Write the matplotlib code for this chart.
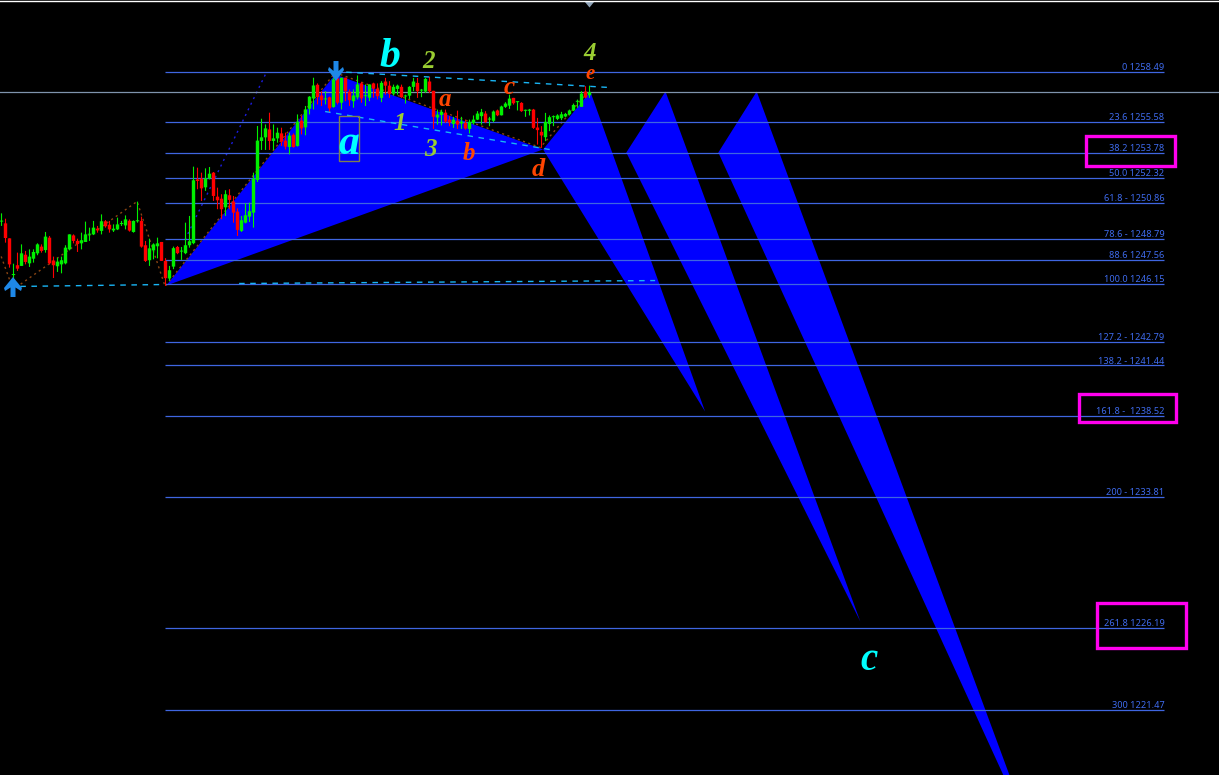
"""
XAUUSD style wave chart: candles, fib levels and projected wave wedges.
Generates out.png.
"""
import matplotlib
matplotlib.use('Agg')
import matplotlib.pyplot as plt
from matplotlib.patches import Polygon, Rectangle

# Candles, one per bar (prices)
opens = [1249.78, 1249.68, 1248.81, 1246.68, 1247.25, 1247.21, 1247.86, 1247.36, 1247.63, 1247.94,
         1248.33, 1248.13, 1248.85, 1247.52, 1247.19, 1247.30, 1247.36, 1248.17, 1248.98, 1248.66,
         1248.52, 1248.60, 1249.02, 1249.04, 1249.37, 1249.24, 1249.80, 1249.60, 1249.27, 1249.33,
         1249.64, 1249.56, 1249.83, 1249.18, 1249.80, 1249.82, 1248.41, 1247.54, 1248.11, 1248.35,
         1248.60, 1247.50, 1246.48, 1247.17, 1248.31, 1248.04, 1247.95, 1248.41, 1248.53, 1252.23,
         1252.27, 1251.77, 1252.29, 1252.62, 1251.23, 1251.11, 1250.61, 1251.31, 1250.94, 1250.36,
         1249.24, 1249.72, 1250.07, 1250.30, 1252.20, 1254.46, 1254.67, 1255.13, 1254.46, 1254.61,
         1254.90, 1254.48, 1254.11, 1254.82, 1254.17, 1255.64, 1255.25, 1256.33, 1256.93, 1257.72,
         1257.10, 1256.87, 1256.99, 1256.43, 1258.09, 1256.68, 1258.13, 1257.32, 1256.77, 1256.99,
         1257.80, 1257.06, 1256.97, 1257.80, 1257.49, 1256.96, 1257.91, 1257.67, 1257.21, 1257.48,
         1257.60, 1257.04, 1257.09, 1257.60, 1257.83, 1257.38, 1257.33, 1257.91, 1257.37, 1255.82,
         1255.97, 1256.09, 1255.70, 1255.45, 1255.63, 1255.47, 1255.51, 1255.16, 1255.51, 1255.70,
         1255.90, 1256.05, 1255.70, 1255.63, 1256.23, 1255.95, 1256.44, 1256.51, 1256.96, 1256.71,
         1256.67, 1256.21, 1256.21, 1256.28, 1255.24, 1254.99, 1254.68, 1255.45, 1255.84, 1255.74,
         1255.78, 1255.88, 1256.01, 1256.23, 1256.73, 1256.44, 1257.33, 1257.11]
highs = [1250.26, 1249.95, 1248.81, 1247.34, 1247.98, 1248.46, 1248.08, 1248.17, 1248.17, 1248.52,
         1248.46, 1249.18, 1248.95, 1247.75, 1247.69, 1247.75, 1248.41, 1249.04, 1249.04, 1248.79,
         1249.14, 1249.78, 1249.43, 1249.82, 1249.53, 1250.20, 1249.87, 1249.82, 1249.62, 1250.01,
         1249.82, 1250.14, 1249.91, 1249.85, 1250.94, 1250.07, 1248.66, 1248.79, 1248.52, 1248.85,
         1248.60, 1247.66, 1247.21, 1248.33, 1248.37, 1248.31, 1249.72, 1250.11, 1252.97, 1252.91,
         1252.62, 1252.87, 1252.95, 1252.66, 1251.75, 1251.37, 1251.60, 1251.66, 1251.27, 1250.55,
         1250.11, 1250.84, 1250.88, 1252.62, 1255.33, 1255.75, 1255.42, 1256.10, 1255.42, 1255.23,
         1255.23, 1254.94, 1254.94, 1254.90, 1256.00, 1255.91, 1256.49, 1257.06, 1258.13, 1257.80,
         1257.35, 1257.35, 1257.03, 1258.13, 1258.13, 1258.13, 1258.13, 1257.45, 1257.45, 1258.26,
         1257.88, 1257.74, 1257.74, 1257.84, 1257.80, 1257.93, 1258.12, 1257.93, 1257.73, 1257.73,
         1257.73, 1257.15, 1257.64, 1258.12, 1258.12, 1257.48, 1258.12, 1258.18, 1257.37, 1256.28,
         1256.28, 1256.28, 1255.90, 1255.86, 1256.22, 1255.86, 1255.70, 1255.70, 1255.94, 1256.19,
         1256.32, 1256.19, 1255.86, 1256.23, 1256.28, 1256.51, 1256.71, 1257.15, 1256.96, 1256.77,
         1256.71, 1256.28, 1256.32, 1256.32, 1255.80, 1255.32, 1256.09, 1255.94, 1255.94, 1256.01,
         1256.15, 1256.09, 1256.28, 1256.63, 1256.86, 1257.35, 1257.64, 1257.67]
lows = [1249.53, 1248.56, 1247.11, 1246.05, 1246.92, 1247.21, 1247.30, 1247.15, 1247.40, 1247.83,
        1247.98, 1247.98, 1247.30, 1246.51, 1246.86, 1246.78, 1247.30, 1248.11, 1248.52, 1248.02,
        1248.17, 1248.60, 1248.66, 1249.00, 1249.14, 1249.04, 1249.43, 1249.14, 1249.18, 1249.29,
        1249.53, 1249.33, 1249.20, 1249.14, 1249.72, 1248.27, 1247.44, 1247.21, 1247.59, 1247.65,
        1247.50, 1246.05, 1246.34, 1247.02, 1247.89, 1247.56, 1247.89, 1248.27, 1248.47, 1251.66,
        1250.98, 1251.56, 1252.23, 1250.98, 1250.50, 1249.92, 1250.11, 1250.50, 1249.72, 1248.95,
        1249.18, 1249.68, 1249.76, 1249.43, 1252.08, 1253.94, 1253.94, 1253.94, 1253.94, 1254.36,
        1254.17, 1253.97, 1253.68, 1254.07, 1254.13, 1254.84, 1254.79, 1256.00, 1256.29, 1256.58,
        1256.49, 1256.58, 1256.10, 1256.39, 1256.58, 1256.29, 1256.77, 1256.49, 1256.39, 1256.87,
        1256.68, 1256.49, 1256.77, 1256.97, 1256.87, 1256.71, 1257.15, 1256.96, 1257.09, 1257.15,
        1256.96, 1256.63, 1256.90, 1257.35, 1256.96, 1257.00, 1257.25, 1257.25, 1255.16, 1255.41,
        1255.36, 1255.51, 1255.32, 1255.22, 1255.16, 1255.16, 1255.12, 1254.89, 1255.41, 1255.67,
        1255.41, 1255.51, 1255.32, 1255.55, 1255.90, 1255.94, 1256.38, 1256.32, 1256.57, 1256.23,
        1256.15, 1255.86, 1255.94, 1255.16, 1254.25, 1254.06, 1254.45, 1255.03, 1255.32, 1255.67,
        1255.67, 1255.84, 1255.94, 1256.19, 1256.38, 1256.44, 1256.94, 1256.96]
closes = [1249.82, 1248.83, 1247.30, 1246.72, 1247.05, 1247.94, 1247.44, 1247.75, 1248.02, 1248.46,
          1248.08, 1248.91, 1247.36, 1247.25, 1247.46, 1247.54, 1248.27, 1249.04, 1248.66, 1248.48,
          1248.70, 1249.04, 1249.06, 1249.43, 1249.27, 1249.80, 1249.51, 1249.33, 1249.37, 1249.62,
          1249.67, 1249.91, 1249.26, 1249.82, 1249.84, 1248.33, 1247.50, 1248.23, 1248.46, 1248.52,
          1247.50, 1246.50, 1246.96, 1248.24, 1247.95, 1248.08, 1248.41, 1248.64, 1252.18, 1252.14,
          1251.71, 1252.29, 1252.56, 1251.27, 1251.02, 1250.50, 1251.37, 1251.04, 1250.30, 1249.30,
          1249.86, 1250.15, 1250.38, 1252.27, 1254.48, 1254.67, 1255.19, 1254.46, 1254.61, 1254.94,
          1254.42, 1254.13, 1254.77, 1254.11, 1255.58, 1255.19, 1256.29, 1257.03, 1257.68, 1257.01,
          1256.83, 1256.91, 1256.35, 1258.03, 1256.68, 1258.13, 1257.35, 1256.83, 1257.10, 1257.74,
          1256.93, 1257.10, 1257.74, 1257.49, 1257.06, 1257.83, 1257.67, 1257.19, 1257.60, 1257.67,
          1257.00, 1257.08, 1257.60, 1257.91, 1257.35, 1257.42, 1258.06, 1257.35, 1255.86, 1255.99,
          1256.15, 1255.59, 1255.53, 1255.70, 1255.41, 1255.59, 1255.18, 1255.57, 1255.70, 1256.05,
          1256.13, 1255.55, 1255.74, 1256.17, 1255.95, 1256.46, 1256.63, 1256.92, 1256.65, 1256.75,
          1256.19, 1256.25, 1256.28, 1255.22, 1255.09, 1254.78, 1255.57, 1255.84, 1255.88, 1255.94,
          1256.01, 1256.03, 1256.23, 1256.55, 1256.77, 1257.21, 1256.98, 1257.29]

# Fibonacci levels
level_prices = [1258.49, 1255.58, 1253.78, 1252.32, 1250.86, 1248.79, 1247.56, 1246.15,
                1242.79, 1241.44, 1238.52, 1233.81, 1226.19, 1221.47]
level_labels = ['0 1258.49', '23.6 1255.58', '38.2 1253.78', '50.0 1252.32', '61.8 - 1250.86',
                '78.6 - 1248.79', '88.6 1247.56', '100.0 1246.15', '127.2 - 1242.79',
                '138.2 - 1241.44', '161.8 -  1238.52', '200 - 1233.81', '261.8 1226.19',
                '300 1221.47']
level_start, level_end = 40.9, 290.7
last_price = 1257.33

# Blue wave wedges, (bar, price) corners
wedge_bars = [[41.2, 83.4, 135.4], [135.4, 147.2, 175.9], [156.2, 166.0, 214.7], [179.2, 188.8, 258.4]]
wedge_prices = [[1246.07, 1258.32, 1253.97], [1253.97, 1257.33, 1238.76],
                [1253.79, 1257.33, 1226.58], [1253.79, 1257.33, 1213.64]]

# Trend lines
zigzag_bars = [-0.08, 2.9, 33.9, 40.9, 83.4, 134.7, 146.7]
zigzag_prices = [1247.76, 1245.84, 1250.95, 1246.02, 1258.43, 1254.08, 1257.33]
channel_bars = [[83.4, 152.2], [80.9, 138.4], [4.7, 40.4], [59.4, 163.4]]
channel_prices = [[1258.49, 1257.56], [1256.17, 1253.91], [1246.02, 1246.13], [1246.19, 1246.36]]
ray_bars = [45.9, 66.2]
ray_prices = [1248.74, 1258.43]

# Colors
c_up = '#00f000'
c_down = '#ff0000'
c_level = '#3f66e0'
c_label = '#3f6cf0'
c_wedge = '#0000ff'
c_channel = '#19b5f5'
c_zigzag = '#8b4513'
c_arrow = '#1e88e8'
c_box = '#ff00ee'
c_big = '#00ffff'
c_wave = '#ff4500'
c_count = '#9acd32'

fig = plt.figure(figsize=(12.19, 7.75), dpi=100, facecolor='black')
ax = fig.add_axes([0, 0, 1, 1], facecolor='black')
ax.set_xlim(-0.375, 304.375)
ax.set_ylim(1217.67, 1262.64)
ax.axis('off')

for xs, ys in zip(wedge_bars, wedge_prices):
    ax.add_patch(Polygon(list(zip(xs, ys)), closed=True, facecolor=c_wedge, edgecolor='none',
                         zorder=1))

ax.plot(zigzag_bars, zigzag_prices, color=c_zigzag, lw=1, ls=(0, (1.5, 2.5)), zorder=2)
ax.plot(ray_bars, ray_prices, color='#1c1ce0', lw=1, ls=(0, (1.5, 3)), zorder=2)
for xs, ys in zip(channel_bars, channel_prices):
    ax.plot(xs, ys, color=c_channel, lw=1, ls=(0, (4, 4)), zorder=5)

ax.hlines(level_prices, level_start, level_end, color=c_level, lw=0.9, zorder=3)
ax.axhline(last_price, color='#7f93ad', lw=0.9, zorder=3)
for price, label in zip(level_prices, level_labels):
    ax.annotate(label, (level_end, price), xytext=(0, -0.2), textcoords='offset points',
                ha='right', va='bottom', color=c_label, fontsize=6.6, family='Noto Sans', zorder=6)

# Candles, snapping off so wick sits in the middle of the body
for i, (o, h, l, c) in enumerate(zip(opens, highs, lows, closes)):
    col = c_up if c >= o else c_down
    ax.vlines(i, l, h, color=col, lw=0.8, zorder=4, snap=False)
    ax.bar(i, max(abs(c - o), 0.06), bottom=min(o, c), width=0.85, color=col, zorder=4, snap=False)

# Overlay in screen pixels for the hand-placed drawing objects
ov = fig.add_axes([0, 0, 1, 1], facecolor='none')
ov.set_xlim(0, 1219)
ov.set_ylim(775, 0)
ov.axis('off')


def draw_box(x0, y0, x1, y1, color, lw):
    ov.add_patch(Rectangle((x0, y0), x1 - x0, y1 - y0, fill=False, edgecolor=color, linewidth=lw))


def letter(x, y, text, color, size):
    ov.text(x, y, text, color=color, fontsize=size, ha='center', va='center',
            family='Liberation Serif', weight='bold', style='italic')


draw_box(1086, 136, 1175, 165.5, c_box, 2.4)
draw_box(1079, 394, 1176, 422, c_box, 2.4)
draw_box(1097, 602.5, 1186, 647.5, c_box, 2.4)
draw_box(339, 116, 359, 160.5, '#7f7f50', 1)

letter(349, 144, 'a', c_big, 30)
letter(390, 57, 'b', c_big, 30)
letter(869, 661, 'c', c_big, 28)
letter(445, 100, 'a', c_wave, 18)
letter(469, 153, 'b', c_wave, 18)
letter(509, 87, 'c', c_wave, 18)
letter(538, 170, 'd', c_wave, 19)
letter(590, 74, 'e', c_wave, 15)
letter(400, 124, '1', c_count, 18)
letter(429, 62, '2', c_count, 18)
letter(430, 150, '3', c_count, 18)
letter(590, 53, '4', c_count, 18)

# Signal arrows
ov.add_patch(Polygon([(13, 277), (22, 288), (21, 291), (15.5, 287.5), (15.5, 297), (10.5, 297),
                      (10.5, 287.5), (5, 291), (4, 288)], closed=True, facecolor=c_arrow,
                     edgecolor='none'))
ov.add_patch(Polygon([(336, 81), (344, 70), (343, 67), (338.5, 71), (338.5, 61), (333.5, 61),
                      (333.5, 71), (329, 67), (328, 70)], closed=True, facecolor=c_arrow,
                     edgecolor='none'))

# Top frame and chart shift marker
ov.plot([0, 1219], [1, 1], color='white', lw=1)
ov.add_patch(Polygon([(585, 2), (594, 2), (589.5, 7.5)], closed=True, facecolor='#8fa3b8',
                     edgecolor='none'))

fig.savefig('out.png', dpi=100, facecolor='black')
plt.close(fig)
print('Saved: out.png')
